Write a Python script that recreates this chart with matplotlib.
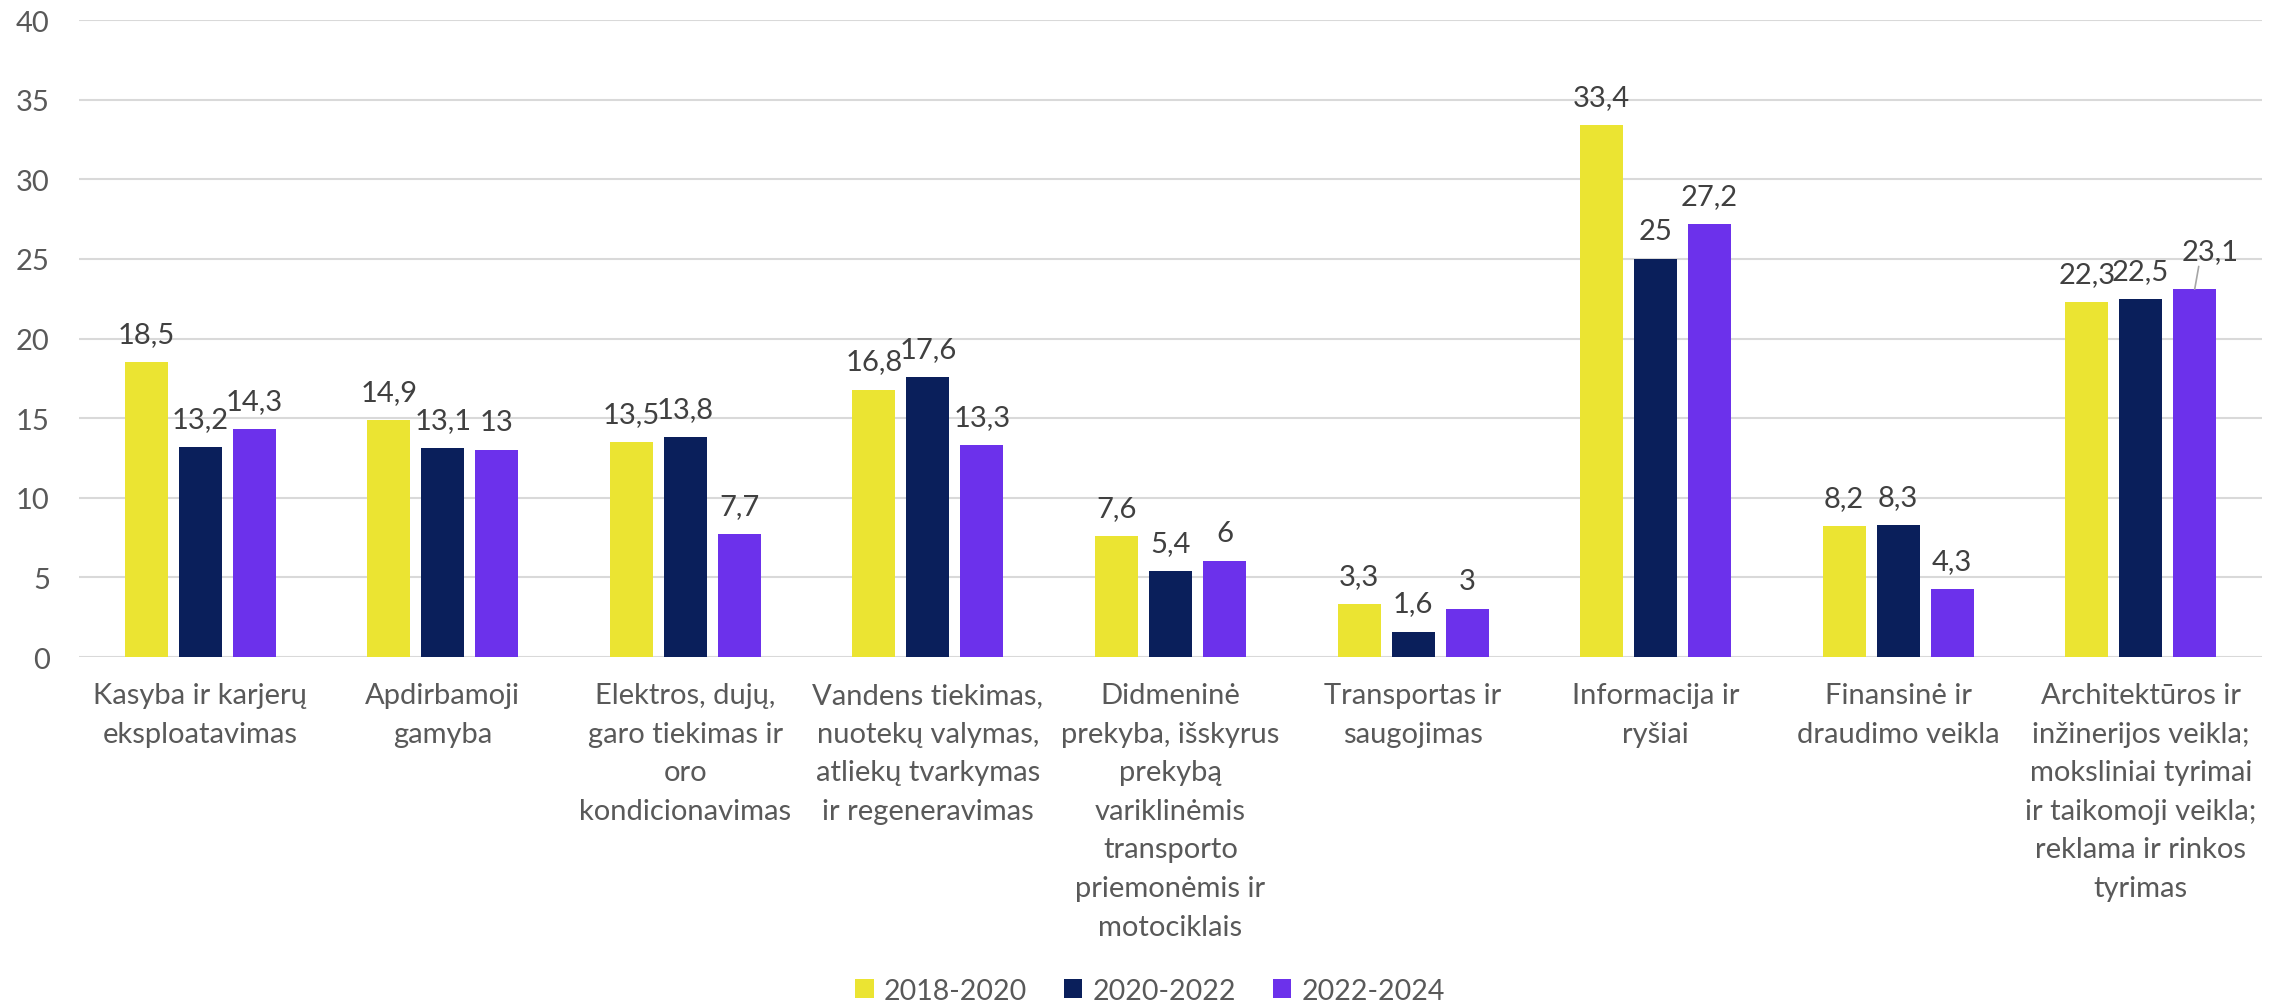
import matplotlib
matplotlib.use("Agg")
import matplotlib.pyplot as plt
from matplotlib.patches import Patch
import numpy as np

plt.rcParams['font.family'] = ['Lato', 'DejaVu Sans']

# duomenys
categories = [
    "Kasyba ir karjerų\neksploatavimas",
    "Apdirbamoji\ngamyba",
    "Elektros, dujų,\ngaro tiekimas ir\noro\nkondicionavimas",
    "Vandens tiekimas,\nnuotekų valymas,\natliekų tvarkymas\nir regeneravimas",
    "Didmeninė\nprekyba, išskyrus\nprekybą\nvariklinėmis\ntransporto\npriemonėmis ir\nmotociklais",
    "Transportas ir\nsaugojimas",
    "Informacija ir\nryšiai",
    "Finansinė ir\ndraudimo veikla",
    "Architektūros ir\ninžinerijos veikla;\nmoksliniai tyrimai\nir taikomoji veikla;\nreklama ir rinkos\ntyrimas",
]
periods = ["2018-2020", "2020-2022", "2022-2024"]
v_2018_2020 = [18.5, 14.9, 13.5, 16.8, 7.6, 3.3, 33.4, 8.2, 22.3]
v_2020_2022 = [13.2, 13.1, 13.8, 17.6, 5.4, 1.6, 25, 8.3, 22.5]
v_2022_2024 = [14.3, 13, 7.7, 13.3, 6, 3, 27.2, 4.3, 23.1]
y_ticks = [0, 5, 10, 15, 20, 25, 30, 35, 40]

series = [v_2018_2020, v_2020_2022, v_2022_2024]
colors = ['#EBE432', '#0A1F5B', '#6C31EB']
text_col = '#404040'
tick_col = '#595959'


def fmt(v):
    s = f"{v:g}"
    return s.replace('.', ',')


fig = plt.figure(figsize=(22.77, 10.04), dpi=100)
ax = fig.add_axes([0.0347, 0.3446, 0.9587, 0.6344])

x = np.arange(len(categories))
width = 0.177
step = 0.2226

for i, (vals, col, lab) in enumerate(zip(series, colors, periods)):
    xs = x + (i - 1) * step
    ax.bar(xs, vals, width=width, color=col, label=lab, zorder=3)
    for j, (xi, v) in enumerate(zip(xs, vals)):
        if i == 2 and j == len(categories) - 1:
            # etiketė su nuorodos linija
            ax.annotate(fmt(v), xy=(xi, v), xytext=(11.5, 22), textcoords='offset points',
                        ha='center', va='baseline', fontsize=21, color=text_col,
                        arrowprops=dict(arrowstyle='-', color='#A6A6A6', lw=1.2,
                                        shrinkA=0, shrinkB=0, relpos=(0.3, 0)))
        else:
            ax.annotate(fmt(v), xy=(xi, v), xytext=(0, 14.4), textcoords='offset points',
                        ha='center', va='baseline', fontsize=21, color=text_col)

ax.set_xlim(-0.5, len(categories) - 0.5)
ax.set_ylim(0, 40)
ax.set_yticks(y_ticks)
ax.set_yticklabels([str(t) for t in y_ticks])
ax.set_xticks(x)
ax.set_xticklabels(categories, linespacing=1.6)
ax.tick_params(axis='y', length=0, pad=21, labelsize=21, labelcolor=tick_col)
ax.tick_params(axis='x', length=0, pad=18, labelsize=21, labelcolor=tick_col)
ax.yaxis.grid(True, color='#D9D9D9', linewidth=1.5, zorder=0)
ax.set_axisbelow(True)
for sp in ax.spines.values():
    sp.set_visible(False)

handles = [Patch(facecolor=c, label=p) for c, p in zip(colors, periods)]
leg = fig.legend(handles=handles, loc='center', bbox_to_anchor=(0.505, 0.012), ncol=3,
                 frameon=False, fontsize=20.5, handlelength=0.65, handleheight=0.65,
                 handletextpad=0.35, columnspacing=1.3)
for t in leg.get_texts():
    t.set_color(tick_col)

fig.savefig('out.png', dpi=100)
